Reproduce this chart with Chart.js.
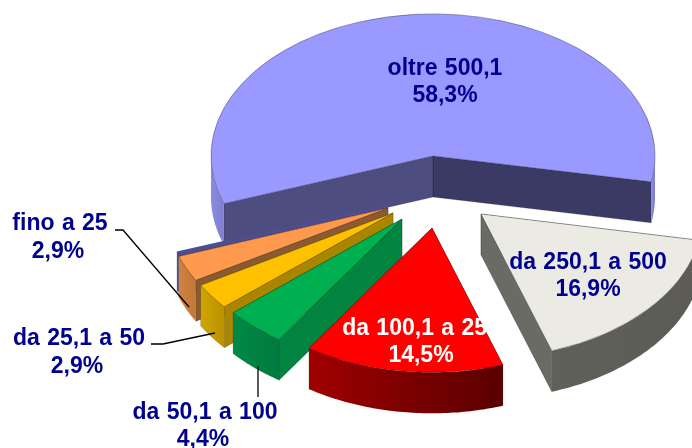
<!DOCTYPE html>
<html lang="it">
<head>
<meta charset="utf-8">
<style>html,body{margin:0;padding:0;background:#fff;overflow:hidden}canvas{display:block}</style>
<script src="https://cdn.jsdelivr.net/npm/chart.js@4"></script>
</head>
<body>
<canvas id="c" width="692" height="448"></canvas>
<script>
// ---- data ----
const categories = ["oltre 500,1", "da 250,1 a 500", "da 100,1 a 250", "da 50,1 a 100", "da 25,1 a 50", "fino a 25"];
const shares = [58.3, 16.9, 14.5, 4.4, 2.9, 2.9];

// ---- styling / layout ----
const topColors  = ["#9999ff", "#ecebe3", "#ff0000", "#00b050", "#ffc000", "#ff994d"];
const edgeColors = ["rgba(60,60,90,.7)", "rgba(60,60,60,.6)", "rgba(120,0,0,.5)", "rgba(0,70,30,.6)", "rgba(90,70,0,.6)", "rgba(90,50,20,.6)"];
const wallStops  = [["#8a8ae0", "#7f7fd0"], ["#60605a", "#5c5c55"], ["#a00000", "#5a0000"], ["#008a46", "#007a3e"], ["#cfa400", "#bb9200"], ["#cf8242", "#c27838"]];
const startFaces = ["#4d4d80", "#5f5f58", "#7a0000", "#00843f", "#a98500", "#8a5a30"];
const endFaces   = ["#3a3a64", "#6b6b65", "#8a0000", "#007a3e", "#a98500", "#8a5a30"];
const apexes = [[433,156], [481,214], [432,228], [402,219], [393,213], [388,208]];
const tilts  = [0.64, 0.65, 0.65, 0.65, 0.65, 0.65];
const drawOrder = [0, 5, 4, 3, 2, 1];
const RADIUS = 222, DEPTH = 41;

const labelPos = [[445,69,96], [588,263,290], [421,329,356]];
const sideLabels = [
  {i:5, x:60,  y1:224, y2:252, cx2:58},
  {i:4, x:79,  y1:339, y2:367, cx2:77},
  {i:3, x:205, y1:413, y2:440, cx2:203}
];
const leaders = [
  [[115,230],[123,230],[189,307]],
  [[151,344],[163,344],[215,333]],
  [[258,366],[258,397]]
];
const labelColors = ["#000090", "#000090", "#ffffff"];
const pct = v => v.toFixed(1).replace(".", ",") + "%";

const pie3d = {
  id: "pie3d",
  beforeDatasetDraw(chart) {
    const ctx = chart.ctx;
    const arcs = chart.getDatasetMeta(0).data;
    drawOrder.forEach(i => {
      const el = arcs[i], o = apexes[i], tilt = tilts[i];
      const P = a => [o[0] + RADIUS * Math.cos(a), o[1] + RADIUS * Math.sin(a) * tilt];
      const sa = el.startAngle, ea = el.endAngle;
      const face = (a, col) => {
        const p = P(a);
        ctx.fillStyle = col;
        ctx.strokeStyle = "rgba(0,0,0,.35)";
        ctx.lineWidth = 0.6;
        ctx.beginPath();
        ctx.moveTo(o[0], o[1]); ctx.lineTo(p[0], p[1]);
        ctx.lineTo(p[0], p[1] + DEPTH); ctx.lineTo(o[0], o[1] + DEPTH);
        ctx.closePath(); ctx.fill(); ctx.stroke();
      };
      // thin sliver of the large slice's colour behind the last slice
      if (i === 5) {
        const p = P(ea);
        ctx.fillStyle = "#4d4d8f";
        ctx.beginPath();
        ctx.moveTo(o[0], o[1]); ctx.lineTo(o[0]-1, o[1]-4); ctx.lineTo(p[0]-2, p[1]-5);
        ctx.lineTo(p[0]-2, p[1]+35); ctx.lineTo(p[0], p[1]+35); ctx.lineTo(p[0], p[1]);
        ctx.closePath(); ctx.fill();
      }
      // the face turned towards the viewer goes last
      if (i === 1) { face(sa, startFaces[i]); face(ea, endFaces[i]); }
      else { face(ea, endFaces[i]); face(sa, startFaces[i]); }
      // outer wall: the parts of the rim that face the viewer
      for (const k of [-2, 0, 2]) {
        const from = Math.max(sa, k * Math.PI), to = Math.min(ea, k * Math.PI + Math.PI);
        if (to <= from) continue;
        const a0 = P(from), a1 = P(to);
        const g = ctx.createLinearGradient(Math.min(a0[0], a1[0]), 0, Math.max(a0[0], a1[0]), 0);
        const stops = wallStops[i];
        g.addColorStop(0, stops[0]); g.addColorStop(1, stops[1]);
        ctx.fillStyle = g;
        ctx.beginPath();
        const n = 60;
        for (let j = 0; j <= n; j++) {
          const p = P(from + (to - from) * j / n);
          j ? ctx.lineTo(p[0], p[1]) : ctx.moveTo(p[0], p[1]);
        }
        for (let j = n; j >= 0; j--) {
          const p = P(from + (to - from) * j / n);
          ctx.lineTo(p[0], p[1] + DEPTH);
        }
        ctx.closePath(); ctx.fill();
      }
      // top face: the library's own arc element, tilted and moved
      ctx.save();
      ctx.translate(o[0], o[1]);
      ctx.scale(1, tilt);
      ctx.translate(-el.x, -el.y);
      el.draw(ctx);
      ctx.restore();
    });
    return false;
  },
  afterDatasetsDraw(chart) {
    const ctx = chart.ctx;
    ctx.save();
    ctx.strokeStyle = "#000"; ctx.lineWidth = 1.3;
    leaders.forEach(l => {
      ctx.beginPath();
      l.forEach((p, j) => j ? ctx.lineTo(p[0], p[1]) : ctx.moveTo(p[0], p[1]));
      ctx.stroke();
    });
    ctx.font = 'bold 23px "Liberation Sans", Arial, sans-serif';
    ctx.textAlign = "center"; ctx.textBaseline = "middle";
    if ("wordSpacing" in ctx) ctx.wordSpacing = "1px";
    [0, 1, 2].forEach(i => {
      const [x, y1, y2] = labelPos[i];
      ctx.fillStyle = labelColors[i];
      ctx.fillText(categories[i], x, y1);
      ctx.fillText(pct(shares[i]), x, y2);
    });
    ctx.fillStyle = "#000090";
    sideLabels.forEach(s => {
      ctx.fillText(categories[s.i], s.x, s.y1);
      ctx.fillText(pct(shares[s.i]), s.cx2, s.y2);
    });
    ctx.restore();
  }
};

new Chart(document.getElementById("c"), {
  type: "pie",
  data: {
    labels: categories,
    datasets: [{
      data: shares,
      backgroundColor: topColors,
      borderColor: edgeColors,
      borderWidth: 0.8
    }]
  },
  options: {
    responsive: false,
    animation: false,
    rotation: 250.4,
    radius: RADIUS,
    plugins: { legend: { display: false }, tooltip: { enabled: false }, title: { display: false } }
  },
  plugins: [pie3d]
});
</script>
</body>
</html>
